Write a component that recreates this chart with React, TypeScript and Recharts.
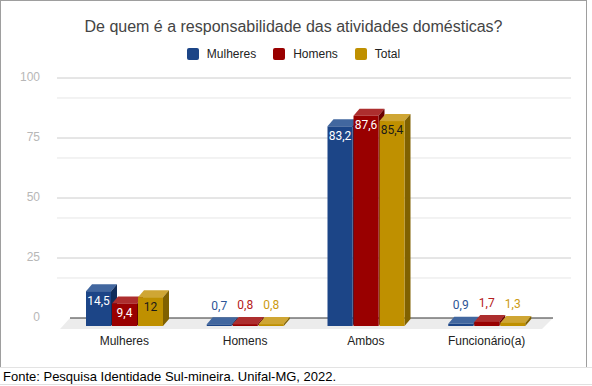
import React from "react";
import {
  BarChart, Bar, XAxis, YAxis, CartesianGrid, Legend,
  LabelList, ReferenceArea,
} from "recharts";

// dados da pesquisa (%)
const categories = ["Mulheres", "Homens", "Ambos", "Funcionário(a)"];
const mulheres   = [14.5, 0.7, 83.2, 0.9];
const homens     = [9.4, 0.8, 87.6, 1.7];
const total      = [12, 0.8, 85.4, 1.3];

const yTicks    = [0, 25, 50, 75, 100];
const majorGrid = [25, 50, 75, 100];
const minorGrid = [8.33, 16.67, 33.33, 41.67, 58.33, 66.67, 83.33, 91.67];

const series = [
  { key: "mulheres", name: "Mulheres", front: "#1c4587", top: "#42679f", side: "#112d5a", inText: "#ffffff", outText: "#2d5596" },
  { key: "homens",   name: "Homens",   front: "#990000", top: "#ad2e2e", side: "#690000", inText: "#ffffff", outText: "#b52020" },
  { key: "total",    name: "Total",    front: "#bf9000", top: "#cfa634", side: "#806100", inText: "#1a1a1a", outText: "#cc9a12" },
];

const data = categories.map((cat, i) => ({
  cat,
  mulheres: mulheres[i],
  homens: homens[i],
  total: total[i],
}));

// profundidade do efeito 3D
const DX = 6;
const DY = 7;
const FRONT = 8;

function Bar3D(props: any) {
  const { x, y, width, height, s } = props;
  const fx = x - DX;
  const fy = y + FRONT;
  const h = Math.max(height, 0);
  return (
    <g>
      <polygon
        points={`${fx},${fy} ${fx + DX},${fy - DY} ${fx + width + DX},${fy - DY} ${fx + width},${fy}`}
        fill={s.top}
      />
      <polygon
        points={`${fx + width},${fy} ${fx + width + DX},${fy - DY} ${fx + width + DX},${fy + h - DY} ${fx + width},${fy + h}`}
        fill={s.side}
      />
      <rect x={fx} y={fy} width={width} height={h} fill={s.front} />
    </g>
  );
}

function Floor(props: any) {
  const { x, y, width, height } = props;
  const base = y + height;
  return (
    <g>
      <polygon
        points={`${x},${base} ${x + width},${base} ${x + width - 11},${base + 11} ${x - 10},${base + 11}`}
        fill="#ececec"
      />
      <line x1={x} y1={base} x2={x + width} y2={base} stroke="#333" strokeWidth={1} />
    </g>
  );
}

const makeLabel = (s: any) => (props: any) => {
  const { x, y, width, value } = props;
  const cx = x - DX + width / 2;
  const txt = String(value).replace(".", ",");
  const inside = value > 5;
  return (
    <text
      x={cx}
      y={inside ? y + FRONT + 13.3 : y - 6.7}
      textAnchor="middle"
      fontFamily="Roboto, Arial, sans-serif"
      fontSize={12}
      fill={inside ? s.inText : s.outText}
    >
      {txt}
    </text>
  );
};

const LegendContent = () => (
  <div style={{
    display: "flex", justifyContent: "center", alignItems: "center",
    fontFamily: "Arial, 'Liberation Sans', sans-serif", fontSize: 12, color: "#222",
    height: 12, lineHeight: "12px",
  }}>
    {series.map((s, i) => (
      <div key={s.key} style={{ display: "flex", alignItems: "center", marginLeft: i ? 17 : 0 }}>
        <span style={{ width: 12, height: 12, background: s.front, borderRadius: 2, marginRight: 8, display: "inline-block" }} />
        {s.name}
      </div>
    ))}
  </div>
);

export default function App() {
  return (
    <div style={{ position: "absolute", left: 0, top: 0, width: 592, height: 386, background: "#fff", overflow: "hidden" }}>
      <div style={{
        position: "absolute", left: 0, top: 0, width: 587, height: 368,
        boxSizing: "border-box", border: "1px solid #9e9e9e",
      }} />
      <div style={{
        position: "absolute", left: 0, top: 17, width: 587, textAlign: "center",
        fontFamily: "Arial, 'Liberation Sans', sans-serif", fontSize: 16, lineHeight: "20px", color: "#444",
      }}>
        De quem é a responsabilidade das atividades domésticas?
      </div>
      <div style={{ position: "absolute", left: 0, top: 0 }}>
        <BarChart
          width={587}
          height={368}
          data={data}
          margin={{ top: 78, right: 16, bottom: 10, left: 0 }}
          barSize={25}
          barGap={1}
        >
          <CartesianGrid vertical={false} horizontalValues={minorGrid} stroke="#e6e6e6" />
          <CartesianGrid vertical={false} horizontalValues={majorGrid} stroke="#cccccc" />
          <XAxis
            dataKey="cat"
            axisLine={false}
            tickLine={false}
            tickSize={0}
            tickMargin={18}
            height={40}
            padding={{ left: 13, right: 18 }}
            tick={{ fill: "#222", fontSize: 12, fontFamily: "Arial, 'Liberation Sans', sans-serif", dx: -6 }}
          />
          <YAxis
            domain={[0, 100]}
            ticks={yTicks}
            width={57}
            axisLine={false}
            tickLine={false}
            tickSize={0}
            tickMargin={17}
            tick={{ fill: "#b7b7b7", fontSize: 12, fontFamily: "Arial, 'Liberation Sans', sans-serif", dy: -1 }}
          />
          <ReferenceArea y1={0} y2={100} shape={Floor} fill="none" />
          <Legend
            verticalAlign="middle"
            layout="horizontal"
            content={LegendContent}
            wrapperStyle={{ top: 48, left: 0, width: 587 }}
          />
          {series.map((s) => (
            <Bar
              key={s.key}
              dataKey={s.key}
              name={s.name}
              fill={s.front}
              isAnimationActive={false}
              shape={(p: any) => <Bar3D {...p} s={s} />}
            >
              <LabelList dataKey={s.key} content={makeLabel(s)} />
            </Bar>
          ))}
        </BarChart>
      </div>
      <div style={{
        position: "absolute", left: 0, top: 367, width: 592, height: 1, background: "#e3e3e3",
      }} />
      <div style={{
        position: "absolute", left: 3, top: 369, whiteSpace: "nowrap",
        fontFamily: "Arial, 'Liberation Sans', sans-serif", fontSize: 13, lineHeight: "16px", color: "#000",
      }}>
        Fonte: Pesquisa Identidade Sul-mineira. Unifal-MG, 2022.
      </div>
      <div style={{
        position: "absolute", left: 0, top: 384, width: 592, height: 1, background: "#e0e0e0",
      }} />
    </div>
  );
}
